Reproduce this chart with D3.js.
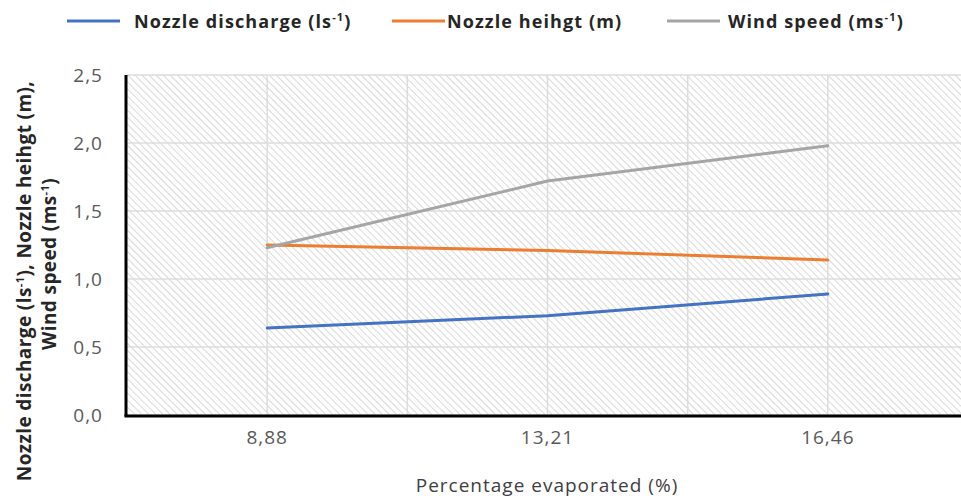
<!DOCTYPE html>
<html>
<head>
<meta charset="utf-8">
<script src="https://cdn.jsdelivr.net/npm/d3@7"></script>
<style>
  body { margin: 0; background: #fff; }
  svg { display: block; }
</style>
</head>
<body>
<div id="chart"></div>
<script>
// data
const categories = ["8,88", "13,21", "16,46"]
const nozzleDischarge = [0.64, 0.73, 0.89]
const nozzleHeight = [1.25, 1.21, 1.14]
const windSpeed = [1.23, 1.72, 1.98]
const yTicks = [0, 0.5, 1.0, 1.5, 2.0, 2.5]

const series = [
  { name: "Nozzle discharge (ls", sup: "-1", tail: ")", values: nozzleDischarge, color: "#4472C4" },
  { name: "Nozzle heihgt (m)", sup: "", tail: "", values: nozzleHeight, color: "#ED7D31" },
  { name: "Wind speed (ms", sup: "-1", tail: ")", values: windSpeed, color: "#A5A5A5" }
]

const WD = 961, HT = 499
const margin = { left: 127, right: -7, top: 75, bottom: 84 }
const width = WD - margin.left - margin.right
const height = HT - margin.top - margin.bottom

const boldFont = "'Open Sans', 'Noto Sans', sans-serif"
const tickFont = "'Open Sans', 'Noto Sans', sans-serif"

var svg = d3.select("#chart").append("svg")
    .attr("width", WD)
    .attr("height", HT)

// hatch fill
var defs = svg.append("defs")
var pat = defs.append("pattern")
    .attr("id", "hatch")
    .attr("patternUnits", "userSpaceOnUse")
    .attr("width", 5)
    .attr("height", 5)
    .attr("patternTransform", "rotate(-45)")
pat.append("rect").attr("width", 5).attr("height", 5).attr("fill", "#fff")
pat.append("line")
    .attr("x1", 0).attr("y1", 0).attr("x2", 0).attr("y2", 5)
    .attr("stroke", "#d0d0d0").attr("stroke-width", 1.6)

var g = svg.append("g")
    .attr("transform", "translate(" + margin.left + "," + margin.top + ")")

const xs = d3.scaleBand().domain(categories).range([0, width]).padding(0)
const ys = d3.scaleLinear().domain([0, 2.5]).range([height, 0])

g.append("rect")
    .attr("width", width)
    .attr("height", height)
    .attr("fill", "url(#hatch)")

// gridlines
g.append("g").selectAll("line")
    .data(yTicks)
    .enter().append("line")
    .attr("x1", 0).attr("x2", width)
    .attr("y1", d => ys(d)).attr("y2", d => ys(d))
    .attr("stroke", "#dcdcdc").attr("stroke-width", 1.5)

var vgrid = []
categories.forEach(c => { vgrid.push(xs(c) + xs.bandwidth() / 2); vgrid.push(xs(c) + xs.bandwidth()) })
g.append("g").selectAll("line")
    .data(vgrid)
    .enter().append("line")
    .attr("x1", d => d).attr("x2", d => d)
    .attr("y1", 0).attr("y2", height)
    .attr("stroke", "#dcdcdc").attr("stroke-width", 1.5)

// lines
var line = d3.line()
    .x((d, i) => xs(categories[i]) + xs.bandwidth() / 2)
    .y(d => ys(d))

g.selectAll(".series")
    .data(series)
    .enter().append("path")
    .attr("class", "series")
    .attr("d", d => line(d.values))
    .attr("fill", "none")
    .attr("stroke", d => d.color)
    .attr("stroke-width", 3)
    .attr("stroke-linecap", "round")

// axes
var yAxis = g.append("g")
    .call(d3.axisLeft(ys).tickValues(yTicks).tickSize(0).tickPadding(24)
        .tickFormat(d => d3.format(".1f")(d).replace(".", ",")))
yAxis.select(".domain").remove()
yAxis.selectAll("text")
    .attr("font-family", tickFont).attr("font-size", "19px").attr("letter-spacing", "1px").attr("fill", "#595959")

var xAxis = g.append("g")
    .attr("transform", "translate(0," + height + ")")
    .call(d3.axisBottom(xs).tickSize(0).tickPadding(16))
xAxis.select(".domain").remove()
xAxis.selectAll("text")
    .attr("font-family", tickFont).attr("font-size", "19px").attr("letter-spacing", "1px").attr("fill", "#595959")

g.append("line")
    .attr("x1", -1).attr("x2", -1).attr("y1", 0).attr("y2", height + 1.5)
    .attr("stroke", "#000").attr("stroke-width", 3)
g.append("line")
    .attr("x1", -2.5).attr("x2", width).attr("y1", height + 1).attr("y2", height + 1)
    .attr("stroke", "#000").attr("stroke-width", 3)

// x label
svg.append("text")
    .attr("x", 547)
    .attr("y", 492)
    .attr("text-anchor", "middle")
    .attr("font-family", tickFont)
    .attr("font-size", "19px")
    .attr("letter-spacing", "1px")
    .attr("fill", "#404040")
    .text("Percentage evaporated (%)")

// y label (two lines)
function supText(sel, parts) {
  parts.forEach(p => {
    var t = sel.append("tspan").text(p.t)
    if (p.sup) t.attr("baseline-shift", "super").attr("font-size", "11px")
  })
}
var yl = svg.append("g").attr("transform", "rotate(-90)")
    .attr("font-family", boldFont).attr("font-weight", "bold").attr("font-size", "19px")
    .attr("letter-spacing", "0.4px").attr("fill", "#262626")
var yl1 = yl.append("text").attr("x", -281).attr("y", 31).attr("text-anchor", "middle")
supText(yl1, [{ t: "Nozzle discharge (ls" }, { t: "-1", sup: true }, { t: "), Nozzle heihgt (m)," }])
var yl2 = yl.append("text").attr("x", -264).attr("y", 56).attr("text-anchor", "middle")
supText(yl2, [{ t: "Wind speed (ms" }, { t: "-1", sup: true }, { t: ")" }])

// legend
const legLineX = [67, 392, 667]
const legTextX = [134, 447, 728]
var leg = svg.append("g").selectAll("g")
    .data(series)
    .enter().append("g")
leg.append("line")
    .attr("x1", (d, i) => legLineX[i]).attr("x2", (d, i) => legLineX[i] + 53)
    .attr("y1", 21).attr("y2", 21)
    .attr("stroke", d => d.color).attr("stroke-width", 3)
leg.each(function(d, i) {
  var t = d3.select(this).append("text")
      .attr("x", legTextX[i]).attr("y", 28)
      .attr("font-family", boldFont).attr("font-weight", "bold")
      .attr("font-size", "18px").attr("letter-spacing", "1.1px").attr("fill", "#262626")
  var parts = [{ t: d.name }]
  if (d.sup) parts.push({ t: d.sup, sup: true }, { t: d.tail })
  supText(t, parts)
})
</script>
</body>
</html>
